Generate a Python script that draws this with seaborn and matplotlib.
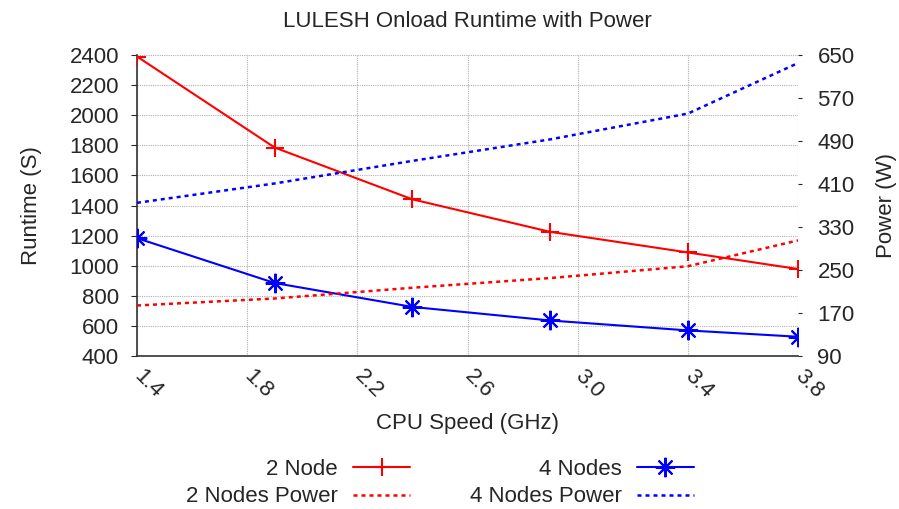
import pandas as pd
import seaborn as sns
import matplotlib.pyplot as plt

# CPU speed settings (GHz)
cpu_speed = [1.4, 1.9, 2.4, 2.9, 3.4, 3.8]
# runtime in seconds
runtime_2node = [2390, 1785, 1441, 1225, 1088, 978]
runtime_4node = [1183, 885, 726, 636, 570, 528]
# power in watts
power_2node = [184, 197, 217, 235, 257, 305]
power_4node = [375, 411, 453, 493, 541, 635]

xticks = [1.4, 1.8, 2.2, 2.6, 3.0, 3.4, 3.8]
yticks_left = list(range(400, 2401, 200))
yticks_right = list(range(90, 651, 80))

sns.set_style('white')
plt.rcParams['font.family'] = ['Liberation Sans', 'DejaVu Sans']

fs = 16
fig = plt.figure(figsize=(8.99, 5.09), dpi=100)
ax = fig.add_axes([137/899, 1-356/509, 661/899, 301/509])
ax2 = ax.twinx()

df = pd.DataFrame({'cpu': cpu_speed, 'rt2': runtime_2node, 'rt4': runtime_4node,
                   'pw2': power_2node, 'pw4': power_4node})

sns.lineplot(data=df, x='cpu', y='rt2', ax=ax, color='red', lw=1.5,
             marker='+', markersize=13, markeredgewidth=1.5, markeredgecolor='red',
             label='2 Node', legend=False, zorder=5)
sns.lineplot(data=df, x='cpu', y='rt4', ax=ax, color='blue', lw=1.5,
             marker=(8, 2, 0), markersize=14, markeredgewidth=1.5, markeredgecolor='blue',
             label='4 Nodes', legend=False, zorder=5)
sns.lineplot(data=df, x='cpu', y='pw2', ax=ax2, color='red', lw=1.8,
             dashes=(1.6, 1.6), label='2 Nodes Power', legend=False)
sns.lineplot(data=df, x='cpu', y='pw4', ax=ax2, color='blue', lw=1.8,
             dashes=(1.6, 1.6), label='4 Nodes Power', legend=False)

ax.set_xlim(1.4, 3.8)
ax.set_ylim(400, 2400)
ax2.set_ylim(90, 650)
ax.set_xticks(xticks)
ax.set_xticklabels(['%.1f' % t for t in xticks], rotation=-45, ha='left', va='center',
                   rotation_mode='anchor', fontsize=fs)
ax.set_yticks(yticks_left)
ax.set_yticklabels([str(t) for t in yticks_left], fontsize=fs)
ax2.set_yticks(yticks_right)
ax2.set_yticklabels([str(t) for t in yticks_right], fontsize=fs)

ax.grid(True, color='#b0b0b0', linestyle=(0, (1, 1)), lw=0.8)
for a in (ax, ax2):
    for s in a.spines.values():
        s.set_visible(False)
for s in ('left', 'bottom'):
    ax.spines[s].set_visible(True)
    ax.spines[s].set_color('#333333')
    ax.spines[s].set_linewidth(1.2)
ax.tick_params(axis='y', direction='out', length=4, width=0.8, pad=9, left=True)
ax.tick_params(axis='x', direction='in', length=0, pad=12, bottom=True)
ax2.tick_params(axis='y', direction='out', length=3, width=0.8, pad=11, right=True)

ax.set_xlabel('CPU Speed (GHz)', fontsize=fs, labelpad=8)
ax.set_ylabel('Runtime (S)', fontsize=fs, labelpad=20)
ax2.set_ylabel('Power (W)', fontsize=fs, labelpad=15)
ax.set_title('LULESH Onload Runtime with Power', fontsize=fs, pad=20)

h1, l1 = ax.get_legend_handles_labels()
h2, l2 = ax2.get_legend_handles_labels()
handles = [h1[0], h2[0], h1[1], h2[1]]
labels = [l1[0], l2[0], l1[1], l2[1]]
fig.legend(handles, labels, loc='center', bbox_to_anchor=(440/899, 1-483/509), ncol=2,
           frameon=False, markerfirst=False, fontsize=fs, handlelength=2.56,
           handletextpad=0.68, columnspacing=2.7, labelspacing=0.3)

plt.savefig('out.png', dpi=100)
